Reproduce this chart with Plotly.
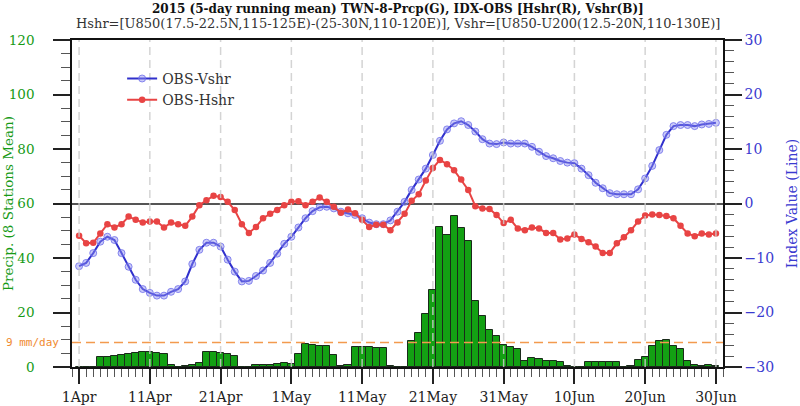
import pandas as pd
import plotly.graph_objects as go

# ---------------- data ----------------
dates = pd.date_range("2015-04-01", "2015-06-30", freq="D")

precip = [0, 0, 0, 3.7, 3.7, 4.0, 4.3, 4.6, 5.0, 5.6, 5.4, 5.0, 4.6, 0.9, 0, 0.4, 0.7, 1.3,
          5.4, 5.4, 5.0, 4.6, 4.0, 0.1, 0.1, 0.9, 0.9, 0.9, 1.1, 1.5, 1.1, 4.6, 8.5, 7.9,
          7.6, 7.6, 4.3, 0.5, 0.7, 7.2, 7.2, 7.2, 7.0, 7.0, 0.2, 0, 0, 9.6, 12.5, 19.5,
          28.1, 51.4, 48.3, 55.4, 51.0, 46.2, 24.3, 18.9, 13.5, 11.2, 7.9, 7.3, 6.6, 2.1,
          3.2, 2.8, 2.1, 2.1, 1.7, 0.2, 0, 0, 1.7, 1.7, 1.7, 1.7, 1.7, 0, 0.2, 2.4, 3.8,
          7.8, 9.5, 9.9, 7.8, 6.6, 2.3, 0.9, 0.4, 0.7, 0.4]

hshr = [-5.9, -7.3, -7.2, -5.5, -3.8, -4.4, -3.8, -2.4, -3.0, -3.5, -3.3, -3.3, -4.4, -3.5,
        -3.8, -4.1, -2.4, -0.3, 0.6, 1.4, 1.2, 0.3, -1.2, -3.8, -5.4, -4.3, -2.7, -1.9,
        -1.2, -0.3, 0.3, 0.4, -0.3, 0.3, 1.1, 0.3, -0.6, -1.7, -1.1, -1.8, -3.0, -4.3,
        -3.9, -3.9, -4.9, -3.5, -1.9, 0.5, 1.7, 4.2, 6.5, 8.0, 7.2, 6.1, 4.4, 2.5, -0.5,
        -0.9, -1.0, -2.1, -3.6, -3.0, -4.6, -4.9, -4.4, -4.6, -5.4, -5.4, -6.6, -6.4, -5.7,
        -6.5, -7.1, -7.9, -9.1, -9.1, -7.3, -6.2, -4.9, -3.3, -2.2, -2.0, -2.1, -2.3, -2.7,
        -4.1, -5.5, -6.0, -5.5, -5.7, -5.5]

vshr = [-11.5, -10.9, -9.1, -7.0, -6.1, -6.7, -9.1, -11.6, -14.0, -15.7, -16.4, -16.9,
        -16.9, -16.2, -15.7, -14.3, -11.1, -8.5, -7.2, -7.2, -7.9, -10.3, -12.5, -14.3,
        -14.2, -13.3, -12.3, -10.9, -9.2, -7.4, -6.1, -4.4, -2.7, -1.4, -0.7, -0.6, -0.9,
        -1.5, -1.8, -2.1, -2.7, -3.5, -3.8, -3.8, -3.1, -1.5, 0.3, 2.5, 4.4, 6.4, 8.9,
        11.5, 13.6, 14.7, 15.1, 14.4, 13.2, 11.8, 11.0, 10.9, 11.2, 11.0, 11.0, 11.0, 10.4,
        9.5, 8.7, 8.3, 7.8, 7.5, 7.4, 6.4, 5.2, 3.8, 2.8, 1.9, 1.7, 1.7, 1.7, 2.6, 4.6,
        6.9, 9.8, 12.6, 14.2, 14.4, 14.4, 14.2, 14.5, 14.6, 14.8]

tick_dates = ["2015-04-01", "2015-04-11", "2015-04-21", "2015-05-01", "2015-05-11",
              "2015-05-21", "2015-05-31", "2015-06-10", "2015-06-20", "2015-06-30"]
tick_labels = ["1Apr", "11Apr", "21Apr", "1May", "11May", "21May", "31May",
               "10Jun", "20Jun", "30Jun"]

threshold = 9
threshold_label = "9 mm/day"

title1 = "2015 (5-day running mean) TWN-8-Prcp(G), IDX-OBS [Hshr(R), Vshr(B)]"
title2 = ("Hshr=[U850(17.5-22.5N,115-125E)-(25-30N,110-120E)], "
          "Vshr=[U850-U200(12.5-20N,110-130E)]")

# ---------------- styles ----------------
FONT = "DejaVu Serif"
GREEN = "#169a16"
BLUE = "#3a3ad0"
RED = "#e84444"
ORANGE = "#f39a4e"

fig = go.Figure()

fig.add_trace(go.Bar(
    x=dates, y=precip, width=86400000,
    marker=dict(color="#13a013", line=dict(color="#1a2a1a", width=1)),
    showlegend=False, yaxis="y",
))

fig.add_trace(go.Scatter(
    x=dates, y=vshr, name="OBS-Vshr", mode="lines+markers", yaxis="y2",
    line=dict(color="#3030cc", width=2),
    marker=dict(symbol="circle", size=7, color="rgba(140,140,240,0.45)",
                line=dict(color="rgba(110,110,235,0.8)", width=1)),
))
fig.add_trace(go.Scatter(
    x=dates, y=hshr, name="OBS-Hshr", mode="lines+markers", yaxis="y2",
    line=dict(color=RED, width=2),
    marker=dict(symbol="circle", size=6.5, color=RED),
))

# dashed vertical guides at the labelled dates (drawn above the bars)
for d in tick_dates:
    fig.add_vline(x=pd.Timestamp(d).timestamp() * 1000, layer="above",
                  line=dict(color="rgba(205,205,205,0.85)", width=1.5, dash="8px,5px"))

fig.add_hline(y=threshold, yref="y", layer="above",
              line=dict(color=ORANGE, width=1.5, dash="9px,5px"))

fig.add_annotation(x=0, xref="paper", y=threshold, yref="y", text=threshold_label,
                   xanchor="right", yanchor="middle", xshift=-11, showarrow=False,
                   font=dict(family="DejaVu Sans Mono", size=11, color="#f08a30"))

# titles (plot area spans 40..367 px vertically)
fig.add_annotation(x=0.5, xref="paper", y=(367 - 9) / 327, yref="paper",
                   text=f"<b>{title1}</b>", showarrow=False, yanchor="middle",
                   font=dict(family=FONT, size=12, color="#111"))
fig.add_annotation(x=0.5, xref="paper", y=(367 - 23) / 327, yref="paper",
                   text=title2, showarrow=False, yanchor="middle",
                   font=dict(family=FONT, size=13, color="#333"))

fig.update_layout(
    width=800, height=406,
    margin=dict(l=72, r=77, t=40, b=39, pad=0),
    paper_bgcolor="white", plot_bgcolor="white",
    font=dict(family=FONT, size=14, color="#222"),
    bargap=0,
    showlegend=True,
    legend=dict(x=0.077, y=0.93, xanchor="left", yanchor="top", bgcolor="rgba(0,0,0,0)",
                font=dict(family=FONT, size=14, color="#333"), tracegroupgap=0),
    xaxis=dict(
        type="date", range=["2015-03-31", "2015-07-01"], automargin=False,
        tickvals=tick_dates, ticktext=tick_labels,
        ticks="outside", ticklen=15, tickwidth=1.5, tickcolor="#222",
        minor=dict(dtick=86400000, tick0="2015-04-01", ticks="outside", ticklen=8,
                   tickwidth=1, tickcolor="#555", showgrid=False),
        showgrid=False, showline=True, linecolor="#111", linewidth=1.5, mirror=True,
        tickfont=dict(family=FONT, size=14, color="#222"), ticklabelstandoff=1,
        zeroline=False,
    ),
    yaxis=dict(
        range=[0, 120], dtick=20, tick0=0, automargin=False,
        ticks="outside", ticklen=17, tickwidth=1.5, tickcolor="#222",
        minor=dict(dtick=5, ticks="outside", ticklen=9, tickwidth=1, tickcolor="#555",
                   showgrid=False),
        showgrid=False, showline=True, linecolor="#111", linewidth=1.5, zeroline=False,
        tickfont=dict(family=FONT, size=13.5, color=GREEN), ticklabelstandoff=16,
        title=dict(text="Precip. (8 Stations Mean)", standoff=4,
                   font=dict(family=FONT, size=13.5, color=GREEN)),
    ),
    yaxis2=dict(
        overlaying="y", side="right", range=[-30, 30], dtick=10, tick0=0, automargin=False,
        ticks="outside", ticklen=17, tickwidth=1.5, tickcolor="#222",
        minor=dict(dtick=2, ticks="outside", ticklen=9, tickwidth=1, tickcolor="#555",
                   showgrid=False),
        showgrid=False, showline=True, linecolor="#111", linewidth=1.5,
        zeroline=True, zerolinecolor="#555", zerolinewidth=1.5,
        tickfont=dict(family=FONT, size=14, color=BLUE), ticklabelstandoff=0,
        title=dict(text="Index Value (Line)", standoff=15,
                   font=dict(family=FONT, size=14, color=BLUE)),
    ),
)

fig.write_html("out.html", config={"displayModeBar": False},
               post_script="document.body.style.margin='0px';")
